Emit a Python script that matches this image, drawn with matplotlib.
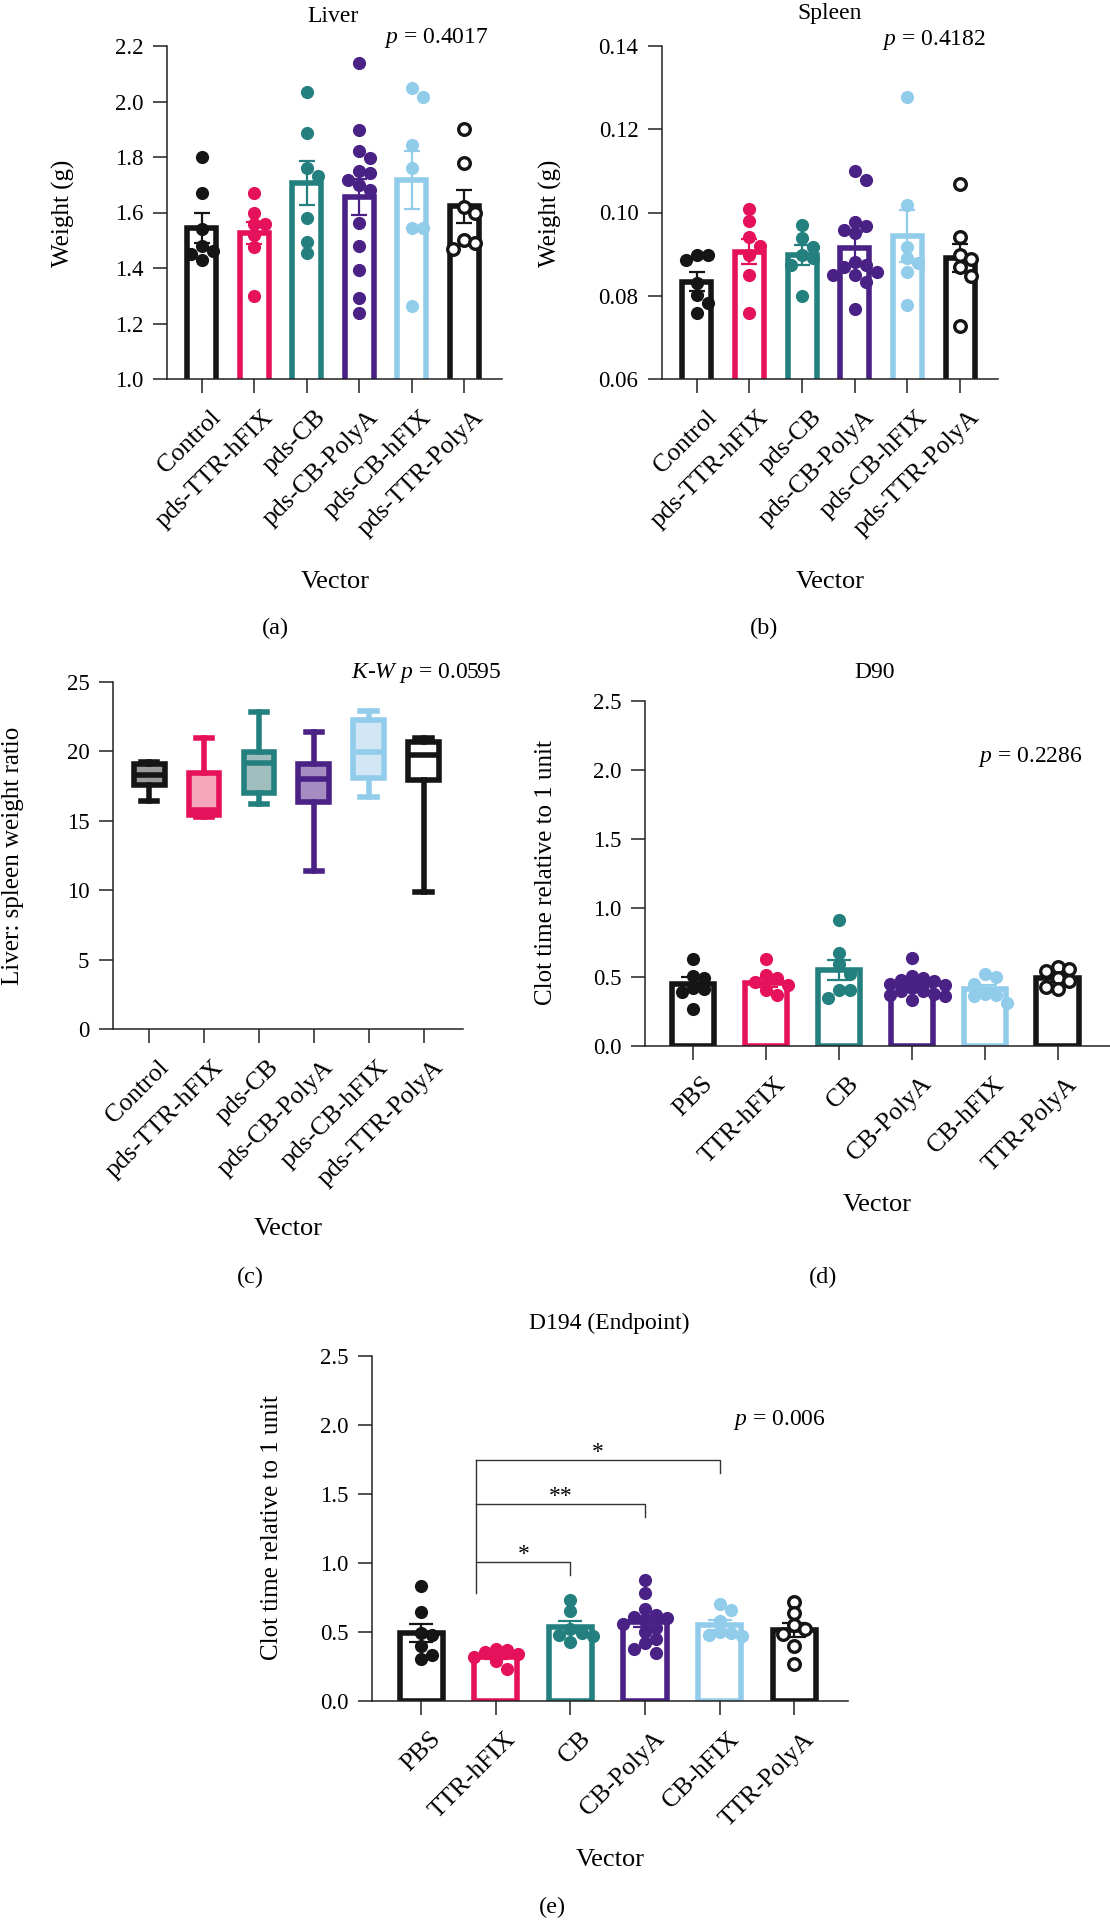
import numpy as np
import matplotlib
matplotlib.use("Agg")
import matplotlib.pyplot as plt
from matplotlib.transforms import ScaledTranslation

# Fuente tipo Times para todo el grafico
plt.rcParams['font.family'] = 'Liberation Serif'
plt.rcParams['mathtext.fontset'] = 'custom'
plt.rcParams['mathtext.rm'] = 'Liberation Serif'
plt.rcParams['mathtext.it'] = 'Liberation Serif:italic'

ANCHO, ALTO = 1110, 1920

# --- Datos ---
vectores = ["Control", "pds-TTR-hFIX", "pds-CB", "pds-CB-PolyA", "pds-CB-hFIX", "pds-TTR-PolyA"]
vectores_coag = ["PBS", "TTR-hFIX", "CB", "CB-PolyA", "CB-hFIX", "TTR-PolyA"]

colores = ["#151515", "#E5115B", "#23807F", "#4A2185", "#92CCEB", "#151515"]
rellenos = ["#9a9a9a", "#f7a7bc", "#a0bebd", "#a58dc2", "#d2e7f6", "#ffffff"]
abiertos = [False, False, False, False, False, True]

# (a) Peso del higado (g)
higado_media = [1.545, 1.527, 1.706, 1.657, 1.717, 1.622]
higado_sem = [0.054, 0.040, 0.078, 0.065, 0.105, 0.060]
higado_puntos = [
    [1.80, 1.67, 1.54, 1.48, 1.46, 1.45, 1.43],
    [1.67, 1.60, 1.56, 1.56, 1.52, 1.475, 1.30],
    [2.036, 1.886, 1.76, 1.733, 1.58, 1.493, 1.454],
    [2.138, 1.898, 1.82, 1.796, 1.748, 1.742, 1.718, 1.70, 1.682, 1.562, 1.48, 1.391, 1.292, 1.238],
    [2.048, 2.018, 1.844, 1.76, 1.544, 1.544, 1.264],
    [1.90, 1.78, 1.62, 1.60, 1.50, 1.49, 1.47],
]

# (b) Peso del bazo (g)
bazo_media = [0.0834, 0.0906, 0.0898, 0.0915, 0.0944, 0.0891]
bazo_sem = [0.0022, 0.0030, 0.0025, 0.0038, 0.0062, 0.0033]
bazo_puntos = [
    [0.0898, 0.0898, 0.0886, 0.0830, 0.0802, 0.0782, 0.0758],
    [0.1009, 0.0980, 0.0940, 0.0920, 0.0898, 0.0849, 0.0758],
    [0.0970, 0.0938, 0.0918, 0.0898, 0.0890, 0.0874, 0.0800],
    [0.1100, 0.1078, 0.0978, 0.0968, 0.0958, 0.0950, 0.0882, 0.0874, 0.0870, 0.0858,
     0.0850, 0.0850, 0.0834, 0.0768],
    [0.1278, 0.1018, 0.0918, 0.0890, 0.0878, 0.0858, 0.0778],
    [0.1069, 0.0940, 0.0898, 0.0888, 0.0870, 0.0848, 0.0728],
]

# (c) Cociente higado:bazo (cajas)
ratio_bigote_inf = [16.43, 15.24, 16.19, 11.40, 16.72, 9.88]
ratio_q1 = [17.61, 15.40, 17.01, 16.34, 18.11, 17.92]
ratio_mediana = [18.28, 15.81, 19.19, 18.04, 19.96, 19.77]
ratio_q3 = [19.07, 18.45, 19.96, 19.07, 22.24, 20.68]
ratio_bigote_sup = [19.24, 21.00, 22.84, 21.40, 22.91, 21.00]

# (d) D90
d90_media = [0.452, 0.460, 0.548, 0.440, 0.410, 0.490]
d90_sem = [0.045, 0.035, 0.072, 0.025, 0.030, 0.025]
d90_puntos = [
    [0.63, 0.505, 0.495, 0.42, 0.415, 0.39, 0.27],
    [0.632, 0.512, 0.495, 0.464, 0.44, 0.404, 0.368],
    [0.912, 0.673, 0.596, 0.524, 0.404, 0.404, 0.351],
    [0.64, 0.51, 0.49, 0.48, 0.47, 0.45, 0.44, 0.42, 0.40, 0.40, 0.38, 0.37, 0.36, 0.33],
    [0.52, 0.50, 0.45, 0.38, 0.37, 0.36, 0.31],
    [0.57, 0.56, 0.54, 0.49, 0.47, 0.43, 0.41],
]

# (e) D194 (Endpoint)
d194_media = [0.493, 0.322, 0.537, 0.573, 0.549, 0.517]
d194_sem = [0.068, 0.020, 0.045, 0.040, 0.036, 0.050]
d194_puntos = [
    [0.83, 0.645, 0.49, 0.48, 0.40, 0.33, 0.305],
    [0.378, 0.366, 0.354, 0.341, 0.32, 0.293, 0.232],
    [0.73, 0.65, 0.52, 0.49, 0.48, 0.47, 0.43],
    [0.88, 0.78, 0.67, 0.62, 0.61, 0.60, 0.58, 0.56, 0.53, 0.50, 0.45, 0.42, 0.38, 0.35],
    [0.70, 0.66, 0.58, 0.50, 0.49, 0.48, 0.47],
    [0.72, 0.64, 0.549, 0.524, 0.488, 0.402, 0.268],
]
# comparaciones: (grupo, etiqueta, altura de la barra)
d194_comparaciones = [(2, "*", 1.01), (3, "**", 1.43), (4, "*", 1.75)]

fig = plt.figure(figsize=(ANCHO / 100, ALTO / 100), dpi=100)


def nuevo_eje(izq, der, arriba, abajo):
    return fig.add_axes([izq / ANCHO, 1 - abajo / ALTO, (der - izq) / ANCHO, (abajo - arriba) / ALTO])


def texto(x, y, s, **kw):
    kw.setdefault('fontsize', 17)
    return fig.text(x / ANCHO, 1 - y / ALTO, s, **kw)


def estilo_eje(ax, ymin, ymax, paso, fmt, etiquetas):
    ax.set_xlim(-0.66, 5.72)
    ax.set_ylim(ymin, ymax)
    ticks = np.arange(ymin, ymax + paso / 2, paso)
    ax.set_yticks(ticks)
    ax.set_yticklabels([fmt.format(t) for t in ticks])
    ax.set_xticks(range(6))
    ax.set_xticklabels(etiquetas, rotation=45, ha='right', va='top', rotation_mode='anchor')
    for s in ['top', 'right']:
        ax.spines[s].set_visible(False)
    for s in ['left', 'bottom']:
        ax.spines[s].set_linewidth(1.1)
        ax.spines[s].set_color('#222222')
    ax.tick_params(axis='both', length=10, width=1.1, color='#222222', direction='out')
    ax.tick_params(axis='y', pad=7, labelsize=16.5)
    ax.tick_params(axis='x', pad=9.5, labelsize=18.5)
    desplazar = ScaledTranslation(6 / 72, 0, fig.dpi_scale_trans)
    for lab in ax.get_xticklabels():
        lab.set_transform(lab.get_transform() + desplazar)


def posiciones_swarm(ax, x0, valores, diam_px=13.0):
    # reparte los puntos a lo ancho para que no se tapen (en pixeles)
    trans = ax.transData
    inv = trans.inverted()
    x0_px = trans.transform((x0, 0))[0]
    colocados = []
    xs = [0.0] * len(valores)
    orden = sorted(range(len(valores)), key=lambda k: -valores[k])
    paso = diam_px * 0.85
    for k in orden:
        y_px = trans.transform((x0, valores[k]))[1]
        x_px = x0_px
        for n in [0, 1, -1, 2, -2, 3, -3, 4, -4]:
            x_px = x0_px + n * paso
            if all((x_px - cx) ** 2 + (y_px - cy) ** 2 >= (diam_px * 0.8) ** 2 for cx, cy in colocados):
                break
        colocados.append((x_px, y_px))
        xs[k] = inv.transform((x_px, y_px))[0]
    return xs


def panel_barras(ax, medias, sems, puntos, ancho_barra, cap):
    for i in range(6):
        ax.bar(i, medias[i], width=ancho_barra, facecolor='white', edgecolor=colores[i],
               linewidth=4, zorder=2)
        ax.errorbar(i, medias[i], yerr=sems[i], fmt='none', ecolor=colores[i], elinewidth=1.6,
                    capsize=cap, capthick=1.6, zorder=3)
        xs = posiciones_swarm(ax, i, puntos[i])
        if abiertos[i]:
            ax.scatter(xs, puntos[i], s=70, facecolors='white', edgecolors=colores[i],
                       linewidths=2.4, zorder=4)
        else:
            ax.scatter(xs, puntos[i], s=90, color=colores[i], linewidths=0, zorder=4)


# (a) Liver
ax_a = nuevo_eje(167, 502, 46, 379)
estilo_eje(ax_a, 1.0, 2.2, 0.2, "{:.1f}", vectores)
panel_barras(ax_a, higado_media, higado_sem, higado_puntos, 0.55, 5.5)
texto(333, 17, "Liver", ha='center', va='center')
texto(489, 38, r"$p$ = 0.4017", ha='right', va='center')
texto(63, 213, "Weight (g)", rotation=90, ha='center', va='center', fontsize=18)
texto(335, 582, "Vector", ha='center', va='center', fontsize=19)
texto(275, 628, "(a)", ha='center', va='center', fontsize=17.5)

# (b) Spleen
ax_b = nuevo_eje(662, 998, 46, 379)
estilo_eje(ax_b, 0.06, 0.14, 0.02, "{:.2f}", vectores)
panel_barras(ax_b, bazo_media, bazo_sem, bazo_puntos, 0.55, 5.5)
texto(830, 14, "Spleen", ha='center', va='center')
texto(986, 40, r"$p$ = 0.4182", ha='right', va='center')
texto(550, 213, "Weight (g)", rotation=90, ha='center', va='center', fontsize=18)
texto(830, 582, "Vector", ha='center', va='center', fontsize=19)
texto(764, 628, "(b)", ha='center', va='center', fontsize=17.5)

# (c) Liver: spleen ratio
ax_c = nuevo_eje(113, 463, 682, 1029)
estilo_eje(ax_c, 0, 25, 5, "{:.0f}", vectores)
for i in range(6):
    caja = dict(whislo=ratio_bigote_inf[i], q1=ratio_q1[i], med=ratio_mediana[i],
                q3=ratio_q3[i], whishi=ratio_bigote_sup[i], fliers=[])
    ax_c.bxp([caja], positions=[i], widths=0.56, patch_artist=True, showfliers=False,
             capwidths=0.3, manage_ticks=False,
             boxprops=dict(facecolor=rellenos[i], edgecolor=colores[i], linewidth=4),
             whiskerprops=dict(color=colores[i], linewidth=4),
             capprops=dict(color=colores[i], linewidth=4),
             medianprops=dict(color=colores[i], linewidth=4))
texto(502, 673, r"$K$-$W$ $p$ = 0.0595", ha='right', va='center')
texto(13, 856, "Liver: spleen weight ratio", rotation=90, ha='center', va='center', fontsize=18)
texto(288, 1229, "Vector", ha='center', va='center', fontsize=19)
texto(250, 1277, "(c)", ha='center', va='center', fontsize=17.5)

# (d) D90
ax_d = nuevo_eje(645, 1110, 701, 1046)
estilo_eje(ax_d, 0.0, 2.5, 0.5, "{:.1f}", vectores_coag)
panel_barras(ax_d, d90_media, d90_sem, d90_puntos, 0.58, 8.5)
texto(875, 673, "D90", ha='center', va='center')
texto(1083, 757, r"$p$ = 0.2286", ha='right', va='center')
texto(546, 873, "Clot time relative to 1 unit", rotation=90, ha='center', va='center', fontsize=18)
texto(877, 1205, "Vector", ha='center', va='center', fontsize=19)
texto(823, 1277, "(d)", ha='center', va='center', fontsize=17.5)

# (e) D194
ax_e = nuevo_eje(372, 848, 1356, 1701)
estilo_eje(ax_e, 0.0, 2.5, 0.5, "{:.1f}", vectores_coag)
panel_barras(ax_e, d194_media, d194_sem, d194_puntos, 0.58, 8.5)
x_izq = 0.74
ax_e.plot([x_izq, x_izq], [0.78, d194_comparaciones[-1][2]], color='#333333', lw=1.0, zorder=5)
for grupo, marca, altura in d194_comparaciones:
    ax_e.plot([x_izq, grupo, grupo], [altura, altura, altura - 0.1], color='#333333', lw=1.0, zorder=5)
    ax_e.text((x_izq + grupo) / 2, altura + 0.01, marca, ha='center', va='baseline', fontsize=17)
texto(609, 1323, "D194 (Endpoint)", ha='center', va='center')
texto(826, 1420, r"$p$ = 0.006", ha='right', va='center')
texto(272, 1528, "Clot time relative to 1 unit", rotation=90, ha='center', va='center', fontsize=18)
texto(610, 1860, "Vector", ha='center', va='center', fontsize=19)
texto(552, 1907, "(e)", ha='center', va='center', fontsize=17.5)

fig.savefig("out.png", dpi=100)
